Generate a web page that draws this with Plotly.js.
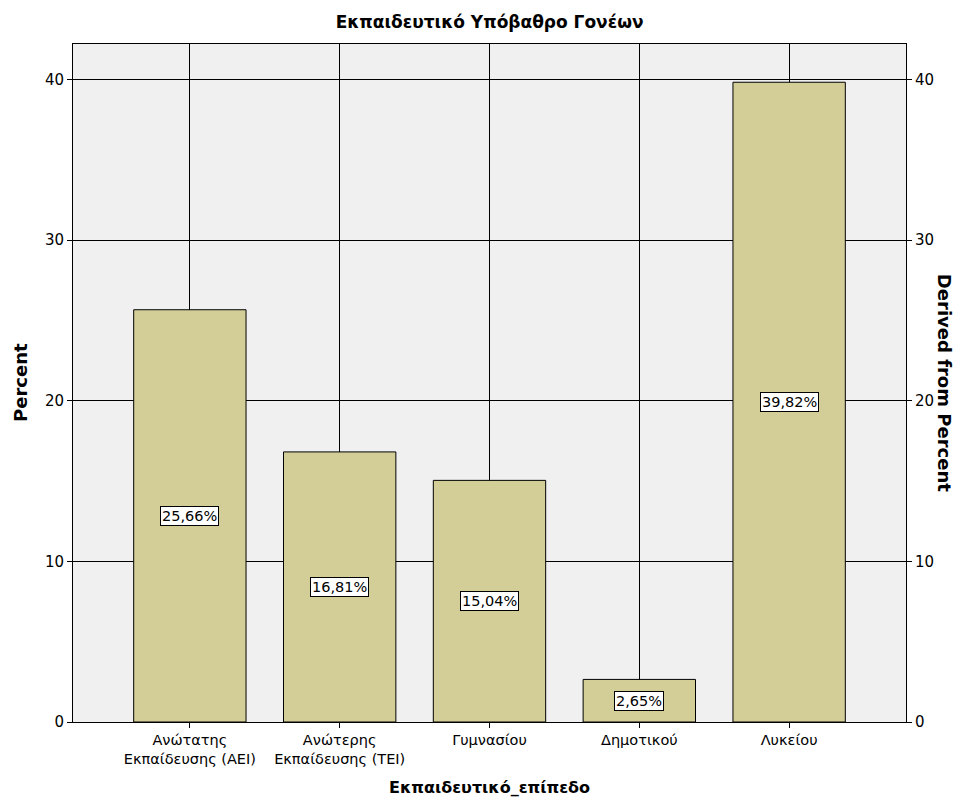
<!DOCTYPE html>
<html>
<head>
<meta charset="utf-8">
<script src="https://cdn.plot.ly/plotly-3.0.1.min.js"></script>
<style>html,body{margin:0;padding:0;background:#fff}#chart{width:960px;height:808px}</style>
</head>
<body>
<div id="chart"></div>
<script>
const categories = ["Ανώτατης<br>Εκπαίδευσης (ΑΕΙ)", "Ανώτερης<br>Εκπαίδευσης (ΤΕΙ)", "Γυμνασίου", "Δημοτικού", "Λυκείου"];
const percentValues = [25.66, 16.81, 15.04, 2.65, 39.82];
const percentLabels = ["25,66%", "16,81%", "15,04%", "2,65%", "39,82%"];
const yTicks = [0, 10, 20, 30, 40];

const FONT = "DejaVu Sans, Verdana, sans-serif";

const traces = [
  {
    type: "bar",
    x: categories,
    y: percentValues,
    width: 0.75,
    marker: {color: "#D3CE98", line: {color: "#000", width: 1}},
    hoverinfo: "skip",
    showlegend: false
  },
  {
    type: "scatter",
    mode: "markers",
    x: categories,
    y: percentValues,
    yaxis: "y2",
    marker: {opacity: 0},
    hoverinfo: "skip",
    showlegend: false
  }
];

const annotations = categories.map((c, i) => ({
  x: c, y: percentValues[i] / 2, xref: "x", yref: "y",
  text: percentLabels[i], showarrow: false,
  font: {family: FONT, size: 14.5, color: "#000"},
  bgcolor: "#fff", bordercolor: "#000", borderwidth: 1, borderpad: 1
}));
annotations.push({
  xref: "paper", yref: "paper", x: 1.047, y: 0.5,
  text: "<b>Derived from Percent</b>", textangle: 90, showarrow: false,
  font: {family: FONT, size: 18, color: "#000"},
  xanchor: "center", yanchor: "middle"
});
annotations.push({
  xref: "paper", yref: "paper", x: -0.0636, y: 0.5,
  text: "<b>Percent</b>", textangle: -90, showarrow: false,
  font: {family: FONT, size: 18, color: "#000"},
  xanchor: "center", yanchor: "middle"
});
annotations.push({
  xref: "paper", yref: "paper", x: 0.5, y: -0.0973,
  text: "<b>Εκπαιδευτικό_επίπεδο</b>", showarrow: false,
  font: {family: FONT, size: 16, color: "#000"},
  xanchor: "center", yanchor: "middle"
});

const layout = {
  width: 960, height: 808,
  margin: {l: 73, r: 54, t: 44, b: 86},
  paper_bgcolor: "#fff",
  plot_bgcolor: "#F0F0F0",
  title: {
    text: "<b>Εκπαιδευτικό Υπόβαθρο Γονέων</b>",
    font: {family: FONT, size: 17, color: "#000"},
    x: 0.51, xanchor: "center", y: 0.973, yanchor: "middle"
  },
  xaxis: {
    type: "category",
    range: [-0.78, 4.78],
    showgrid: true, gridcolor: "#000", gridwidth: 1,
    showline: true, linecolor: "#000", linewidth: 1, mirror: true,
    ticks: "outside", ticklen: 5, tickcolor: "#000",
    tickfont: {family: FONT, size: 14.5, color: "#000"},
    fixedrange: true
  },
  yaxis: {
    range: [0, 42.2],
    tickvals: yTicks,
    showgrid: true, gridcolor: "#000", gridwidth: 1,
    zeroline: false,
    showline: true, linecolor: "#000", linewidth: 1, mirror: true,
    ticks: "outside", ticklen: 5, tickcolor: "#000",
    tickfont: {family: FONT, size: 15, color: "#000"},
    fixedrange: true
  },
  yaxis2: {
    overlaying: "y", side: "right",
    range: [0, 42.2],
    tickvals: yTicks,
    showgrid: false, zeroline: false,
    ticks: "outside", ticklen: 5, tickcolor: "#000",
    tickfont: {family: FONT, size: 15, color: "#000"},
    fixedrange: true
  },
  annotations: annotations,
  bargap: 0.25
};

Plotly.newPlot("chart", traces, layout, {displayModeBar: false, staticPlot: true});
</script>
</body>
</html>
